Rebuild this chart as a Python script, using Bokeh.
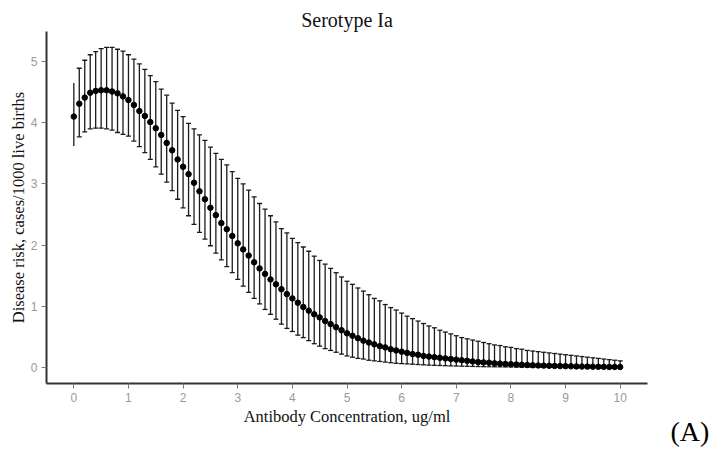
from bokeh.plotting import figure
from bokeh.models import ColumnDataSource, Whisker, TeeHead, FixedTicker, Label, Range1d
from bokeh.embed import file_html
from bokeh.resources import INLINE

# Antibody concentration (ug/ml)
conc = [round(i / 10, 1) for i in range(101)]

# Estimated disease risk (cases/1000 live births)
risk = [4.10, 4.31, 4.41, 4.49, 4.52, 4.53, 4.53, 4.51, 4.48, 4.43,
        4.37, 4.29, 4.19, 4.11, 4.01, 3.91, 3.80, 3.67, 3.55, 3.40,
        3.28, 3.16, 3.02, 2.88, 2.75, 2.61, 2.49, 2.36, 2.26, 2.15,
        2.03, 1.93, 1.83, 1.72, 1.62, 1.53, 1.44, 1.36, 1.28, 1.20,
        1.13, 1.06, 0.99, 0.93, 0.87, 0.82, 0.76, 0.71, 0.66, 0.61,
        0.56, 0.52, 0.48, 0.44, 0.41, 0.38, 0.35, 0.33, 0.30, 0.28,
        0.26, 0.24, 0.22, 0.21, 0.19, 0.18, 0.17, 0.16, 0.15, 0.14,
        0.13, 0.12, 0.11, 0.10, 0.09, 0.085, 0.08, 0.07, 0.065, 0.06,
        0.055, 0.05, 0.045, 0.042, 0.038, 0.035, 0.032, 0.030, 0.027, 0.025,
        0.023, 0.021, 0.019, 0.017, 0.016, 0.015, 0.013, 0.012, 0.011, 0.010,
        0.010]

# Upper confidence limit
upper = [4.65, 4.89, 5.02, 5.11, 5.16, 5.21, 5.23, 5.23, 5.20, 5.17,
         5.11, 5.04, 4.96, 4.87, 4.77, 4.67, 4.55, 4.45, 4.32, 4.20,
         4.10, 3.99, 3.90, 3.80, 3.71, 3.60, 3.50, 3.40, 3.31, 3.20,
         3.09, 3.00, 2.90, 2.79, 2.68, 2.59, 2.48, 2.38, 2.27, 2.20,
         2.11, 2.04, 1.97, 1.90, 1.82, 1.75, 1.69, 1.62, 1.55, 1.48,
         1.41, 1.36, 1.30, 1.25, 1.19, 1.13, 1.09, 1.03, 0.98, 0.94,
         0.89, 0.84, 0.80, 0.76, 0.72, 0.68, 0.65, 0.61, 0.58, 0.55,
         0.52, 0.49, 0.47, 0.45, 0.43, 0.41, 0.39, 0.37, 0.36, 0.34,
         0.33, 0.31, 0.30, 0.28, 0.27, 0.26, 0.25, 0.24, 0.23, 0.22,
         0.21, 0.20, 0.19, 0.18, 0.17, 0.16, 0.15, 0.14, 0.13, 0.12,
         0.11]

# Lower confidence limit
lower = [3.62, 3.77, 3.85, 3.90, 3.91, 3.91, 3.90, 3.88, 3.84, 3.81,
         3.78, 3.70, 3.61, 3.51, 3.40, 3.28, 3.16, 3.03, 2.89, 2.75,
         2.61, 2.48, 2.34, 2.21, 2.10, 1.99, 1.87, 1.76, 1.65, 1.55,
         1.44, 1.33, 1.23, 1.13, 1.04, 0.95, 0.87, 0.79, 0.71, 0.64,
         0.59, 0.53, 0.49, 0.44, 0.39, 0.35, 0.31, 0.28, 0.25, 0.22,
         0.19, 0.17, 0.15, 0.14, 0.12, 0.11, 0.10, 0.09, 0.08, 0.07,
         0.065, 0.060, 0.055, 0.050, 0.045, 0.040, 0.037, 0.034, 0.031, 0.028,
         0.025, 0.023, 0.021, 0.019, 0.017, 0.015, 0.014, 0.013, 0.012, 0.011,
         0.010, 0.009, 0.008, 0.008, 0.007, 0.006, 0.006, 0.005, 0.005, 0.004,
         0.004, 0.004, 0.003, 0.003, 0.003, 0.002, 0.002, 0.002, 0.002, 0.001,
         0.001]

x_ticks = list(range(0, 11))
y_ticks = list(range(0, 6))

# ---- layout constants (pixels / axis limits) ----
W, H = 713, 450
BOX_L, BOX_R, BOX_T, BOX_B = 46, 647, 31, 383   # axis box in canvas pixels
X_LIM = (-0.5, 10.5)
Y_LIM = (-0.26, 5.49)

sx = (BOX_R - BOX_L) / (X_LIM[1] - X_LIM[0])
sy = (BOX_B - BOX_T) / (Y_LIM[1] - Y_LIM[0])
x_range = Range1d(X_LIM[0] - BOX_L / sx, X_LIM[1] + (W - BOX_R) / sx)
y_range = Range1d(Y_LIM[0] - (H - BOX_B) / sy, Y_LIM[1] + BOX_T / sy)

SERIF = "Liberation Serif"
SANS = "Liberation Sans"

p = figure(width=W, height=H, x_range=x_range, y_range=y_range,
           output_backend="svg", toolbar_location=None,
           min_border=0, min_border_left=0, min_border_right=0,
           min_border_top=0, min_border_bottom=0)
p.title.visible = False
p.outline_line_color = None
p.xgrid.visible = False
p.ygrid.visible = False
p.background_fill_color = "white"
p.border_fill_color = "white"

for ax in (p.xaxis[0], p.yaxis[0]):
    ax.axis_line_color = "#333333"
    ax.axis_line_width = 2
    ax.major_tick_line_color = "#777777"
    ax.major_tick_line_width = 1
    ax.major_tick_in = 0
    ax.major_tick_out = 5
    ax.minor_tick_line_color = None
    ax.major_label_text_font = SANS
    ax.major_label_text_font_size = "12px"
    ax.major_label_text_color = "#9a9a9a"
    ax.axis_label_text_font = SERIF
    ax.axis_label_text_font_style = "normal"
    ax.axis_label_text_font_size = "16.5px"
    ax.axis_label_text_color = "#111111"

xa, ya = p.xaxis[0], p.yaxis[0]
xa.ticker = FixedTicker(ticks=x_ticks)
ya.ticker = FixedTicker(ticks=y_ticks)
xa.bounds = X_LIM
ya.bounds = Y_LIM
xa.fixed_location = Y_LIM[0]
ya.fixed_location = X_LIM[0]
xa.axis_label = "Antibody Concentration, ug/ml"
ya.axis_label = "Disease risk, cases/1000 live births"
xa.major_label_standoff = 4
ya.major_label_standoff = 4
xa.axis_label_standoff = 2
ya.axis_label_standoff = 0

src_first = ColumnDataSource(dict(x=conc[:1], y=risk[:1], lo=lower[:1], hi=upper[:1]))
src_rest = ColumnDataSource(dict(x=conc[1:], y=risk[1:], lo=lower[1:], hi=upper[1:]))
src_all = ColumnDataSource(dict(x=conc, y=risk, lo=lower, hi=upper))

p.segment(x0="x", y0="lo", x1="x", y1="hi", source=src_first,
          line_color="#1a1a1a", line_width=1.3)
w = Whisker(base="x", lower="lo", upper="hi", source=src_rest,
            line_color="#1a1a1a", line_width=1.3,
            upper_head=TeeHead(size=5, line_color="#1a1a1a", line_width=1.3),
            lower_head=TeeHead(size=5, line_color="#1a1a1a", line_width=1.3))
p.add_layout(w)

p.scatter(x="x", y="y", source=src_all, size=5.5, color="black")

# Title (drawn as a label centred over the axis box)
title = Label(x=(BOX_L + BOX_R) / 2, y=H - 19, x_units="screen", y_units="screen",
              text="Serotype Ia", text_font=SERIF, text_font_size="20px",
              text_color="#111111", text_align="center", text_baseline="alphabetic")
p.add_layout(title)

# Panel tag
tag = Label(x=670, y=H - 431, x_units="screen", y_units="screen",
            text="(A)", text_font=SERIF, text_font_size="28px", text_color="black",
            text_baseline="alphabetic", text_align="left")
p.add_layout(tag)

open("out.html", "w").write(file_html(p, INLINE))
